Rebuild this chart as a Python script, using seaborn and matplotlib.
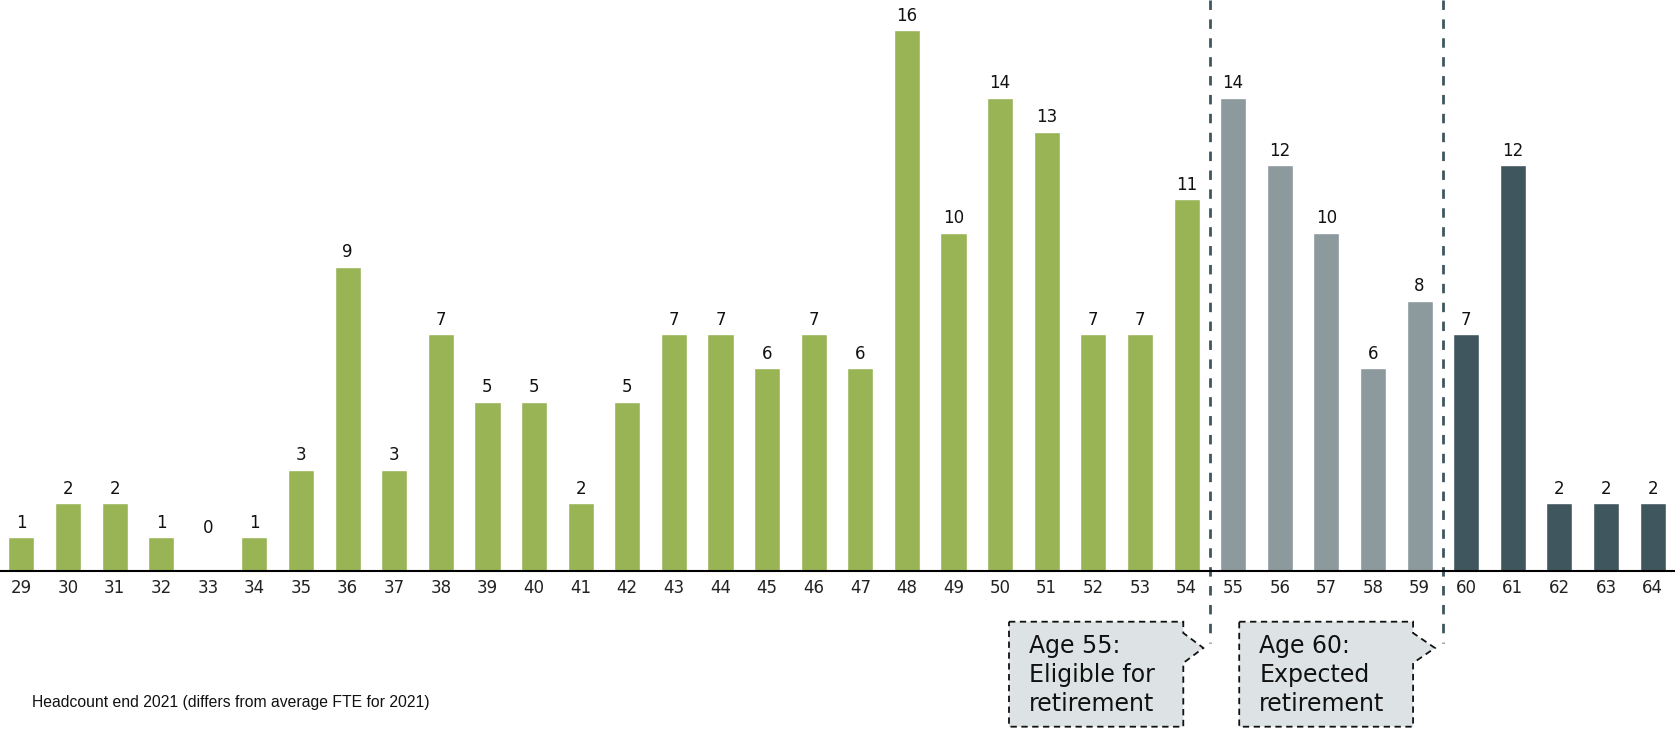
import matplotlib
matplotlib.use("Agg")
import matplotlib.pyplot as plt
import matplotlib.patches as mpatches
from matplotlib.transforms import blended_transform_factory
import pandas as pd
import seaborn as sns

# Headcount by age
ages = list(range(29, 65))
counts = [1, 2, 2, 1, 0, 1, 3, 9, 3, 7, 5, 5, 2, 5, 7, 7, 6, 7, 6, 16,
          10, 14, 13, 7, 7, 11, 14, 12, 10, 6, 8, 7, 12, 2, 2, 2]
groups = (["Below 55"] * 26) + (["55-59"] * 5) + (["60+"] * 5)
group_colors = {"Below 55": "#98B455", "55-59": "#8C999D", "60+": "#40565E"}

footnote = "Headcount end 2021 (differs from average FTE for 2021)"
callout_1 = "Age 55:\nEligible for\nretirement"
callout_2 = "Age 60:\nExpected\nretirement"

df = pd.DataFrame({"age": [str(a) for a in ages], "count": counts, "group": groups})

sns.set_theme(style="white")
plt.rcParams["font.family"] = ["DejaVu Sans"]

fig = plt.figure(figsize=(16.75, 7.31), dpi=100)
ax = fig.add_axes([0.0, 160 / 731, 1.0, 571 / 731])

sns.barplot(data=df, x="age", y="count", hue="group", palette=group_colors,
            dodge=False, width=0.56, saturation=1, legend=False, ax=ax,
            order=[str(a) for a in ages])

ax.set_xlim(-0.459, 35.48)
ax.set_ylim(0, 16.89)
ax.set_xlabel("")
ax.set_ylabel("")
ax.set_yticks([])
ax.tick_params(axis="x", length=0, pad=6, labelsize=12, labelcolor="#222222")
for side in ("top", "left", "right"):
    ax.spines[side].set_visible(False)
ax.spines["bottom"].set_color("black")
ax.spines["bottom"].set_linewidth(1.5)

# Value labels above each bar
for i, v in enumerate(counts):
    y = v if v > 0 else 0.85
    ax.annotate(str(v), (i, y), xytext=(0, 4), textcoords="offset points",
                ha="center", va="bottom", fontsize=12, color="#111111")

# Dashed dividers between age bands, running past the axis into the callouts
tr = blended_transform_factory(ax.transData, fig.transFigure)
for xd in (25.5, 30.5):
    ax.plot([xd, xd], [1.0, 0.120], transform=tr, clip_on=False,
            color="#40565E", lw=2.0, dashes=(3.4, 3.4))

def callout(left, right, tip, text):
    top, bottom = 1 - 621.7 / 731, 1 - 726.7 / 731
    n_top, n_tip, n_bot = 1 - 633 / 731, 1 - 648 / 731, 1 - 663 / 731
    pts = [(left, top), (right, top), (right, n_top), (tip, n_tip),
           (right, n_bot), (right, bottom), (left, bottom)]
    poly = mpatches.Polygon(pts, closed=True, transform=tr, clip_on=False,
                            facecolor="#DDE3E4", edgecolor="#111111",
                            lw=1.3, linestyle=(0, (3.5, 2.5)))
    ax.add_patch(poly)
    ax.text(left + 0.43, 1 - 675 / 731, text, transform=tr, ha="left",
            va="center", fontsize=17, linespacing=1.25, color="#111111")

callout(21.19, 24.93, 25.36, callout_1)
callout(26.13, 29.86, 30.33, callout_2)

fig.text(32 / 1675, 1 - 702 / 731, footnote, ha="left", va="center",
         fontsize=11.3, family=["Liberation Sans", "DejaVu Sans"], color="#111111")

fig.savefig("out.png", dpi=100)
